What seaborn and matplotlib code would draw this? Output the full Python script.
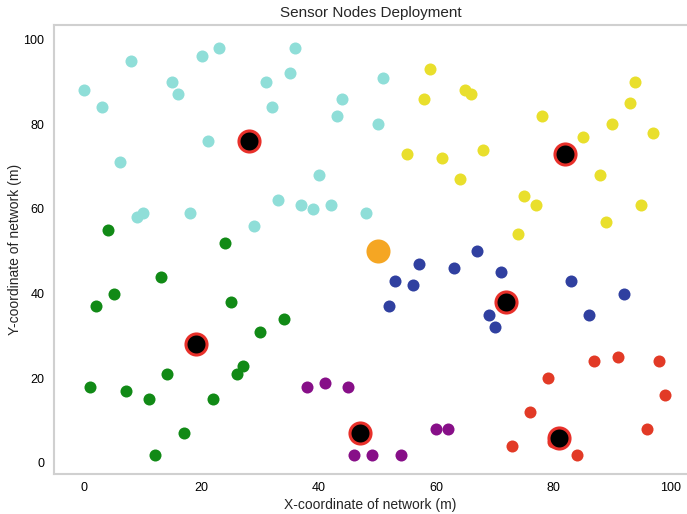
import matplotlib
matplotlib.use("Agg")
import matplotlib.pyplot as plt
import seaborn as sns
import pandas as pd

sns.set_theme(style="white")
plt.rcParams['font.family'] = ['Liberation Sans', 'DejaVu Sans']

cyan_x = [0, 3, 8, 6, 9, 10, 15, 16, 18, 20, 21, 23, 29, 31, 32, 33, 35, 36, 37, 39, 40, 42, 43, 44, 51, 50, 48]
cyan_y = [88, 84, 95, 71, 58, 59, 90, 87, 59, 96, 76, 98, 56, 90, 84, 62, 92, 98, 61, 60, 68, 61, 82, 86, 91, 80, 59]

yellow_x = [59, 58, 65, 66, 55, 61, 68, 64, 78, 85, 90, 93, 94, 97, 88, 75, 77, 95, 89, 74]
yellow_y = [93, 86, 88, 87, 73, 72, 74, 67, 82, 77, 80, 85, 90, 78, 68, 63, 61, 61, 57, 54]

blue_x = [67, 57, 63, 71, 53, 56, 52, 69, 70, 83, 92, 86]
blue_y = [50, 47, 46, 45, 43, 42, 37, 35, 32, 43, 40, 35]

red_x = [87, 91, 98, 79, 99, 76, 96, 73, 84, 80]
red_y = [24, 25, 24, 20, 16, 12, 8, 4, 2, 5]

purple_x = [45, 38, 41, 60, 62, 46, 49, 54]
purple_y = [18, 18, 19, 8, 8, 2, 2, 2]

green_x = [13, 5, 2, 25, 34, 30, 27, 26, 14, 1, 7, 11, 22, 17, 12, 4, 24]
green_y = [44, 40, 37, 38, 34, 31, 23, 21, 21, 18, 17, 15, 15, 7, 2, 55, 52]

centroid_x = [28, 82, 72, 81, 47, 19]
centroid_y = [76, 73, 38, 6, 7, 28]

sink_x = [50]
sink_y = [50]

groups = [
    (cyan_x, cyan_y, "#8fded8"),
    (yellow_x, yellow_y, "#e9df2c"),
    (blue_x, blue_y, "#3040a0"),
    (red_x, red_y, "#e23a26"),
    (purple_x, purple_y, "#870f88"),
    (green_x, green_y, "#118a16"),
]

fig = plt.figure(figsize=(6.87, 5.14), dpi=100)
ax = fig.add_axes([54/687, 40/514, 633/687, 449/514])

for xs, ys, col in groups:
    df = pd.DataFrame({"x": xs, "y": ys})
    sns.scatterplot(data=df, x="x", y="y", color=col, s=75, linewidth=0, ax=ax, zorder=2)

dfc = pd.DataFrame({"x": centroid_x, "y": centroid_y})
sns.scatterplot(data=dfc, x="x", y="y", color="black", edgecolor="#e8302a", linewidth=2.2, s=230, ax=ax, zorder=3)

dfs = pd.DataFrame({"x": sink_x, "y": sink_y})
sns.scatterplot(data=dfs, x="x", y="y", color="#f5a623", s=300, linewidth=0, ax=ax, zorder=3)

ax.set_xlim(-5.2, 102.8)
ax.set_ylim(-2.6, 103.4)
ax.set_xticks([0, 20, 40, 60, 80, 100])
ax.set_yticks([0, 20, 40, 60, 80, 100])
ax.tick_params(axis='both', length=0, labelsize=9, colors='black', pad=7)
ax.tick_params(axis='x', pad=6)
for side in ["left", "bottom", "top"]:
    ax.spines[side].set_color("#d0d0d0")
    ax.spines[side].set_linewidth(1.5)
ax.spines["right"].set_visible(False)

ax.set_title("Sensor Nodes Deployment", fontsize=11, pad=6)
ax.set_xlabel("X-coordinate of network (m)", fontsize=10, labelpad=3)
ax.set_ylabel("Y-coordinate of network (m)", fontsize=10, labelpad=1)

fig.savefig("out.png", dpi=100)
